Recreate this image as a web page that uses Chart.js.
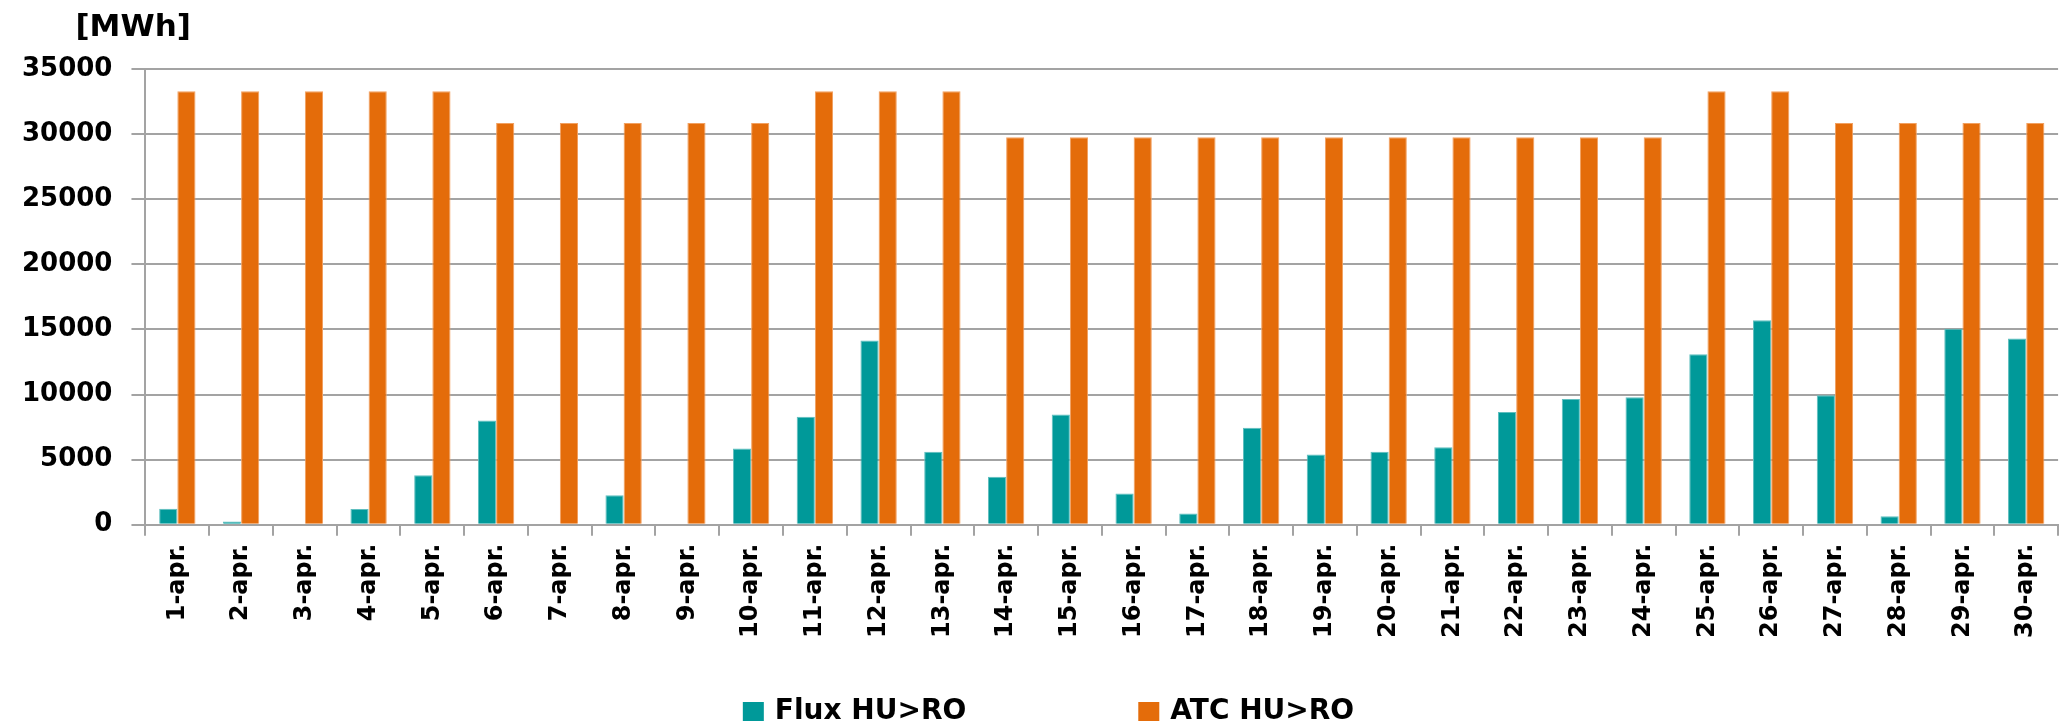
<!DOCTYPE html>
<html>
<head>
<meta charset="utf-8">
<script src="https://cdn.jsdelivr.net/npm/chart.js@4.4.1/dist/chart.umd.min.js"></script>
<style>
  html, body { margin: 0; padding: 0; background: #fff; }
</style>
</head>
<body>
<canvas id="fluxChart" width="2063" height="721"></canvas>
<script>
// daily values, April
const days = ['1-apr.', '2-apr.', '3-apr.', '4-apr.', '5-apr.', '6-apr.', '7-apr.', '8-apr.', '9-apr.', '10-apr.',
              '11-apr.', '12-apr.', '13-apr.', '14-apr.', '15-apr.', '16-apr.', '17-apr.', '18-apr.', '19-apr.', '20-apr.',
              '21-apr.', '22-apr.', '23-apr.', '24-apr.', '25-apr.', '26-apr.', '27-apr.', '28-apr.', '29-apr.', '30-apr.'];

const fluxHuRo = [1220, 250, 0, 1200, 3800, 8000, 0, 2270, 0, 5850,
                  8300, 14150, 5600, 3680, 8470, 2400, 870, 7450, 5400, 5600,
                  5950, 8650, 9650, 9800, 13100, 15700, 9950, 650, 15050, 14300];

const atcHuRo = [33300, 33300, 33300, 33300, 33300, 30850, 30850, 30850, 30850, 30850,
                 33300, 33300, 33300, 29750, 29750, 29750, 29750, 29750, 29750, 29750,
                 29750, 29750, 29750, 29750, 33300, 33300, 30850, 30850, 30850, 30850];

const unitLabel = '[MWh]';

const gridGrey = '#a3a3a3';

// legend + unit label drawn by hand, the built-in legend can't space items this wide
const extras = {
    id: 'extras',
    afterDraw(chart) {
        const ctx = chart.ctx;
        const area = chart.chartArea;
        ctx.save();
        ctx.fillStyle = '#000';
        ctx.textBaseline = 'middle';
        ctx.font = 'bold 31px "DejaVu Sans"';
        ctx.fillText(unitLabel, area.left - 70, 28);

        const box = 21, gap = 11, spacing = 172;
        ctx.font = 'bold 28px "DejaVu Sans"';
        const items = chart.data.datasets.map(ds => ({
            text: ds.label,
            color: ds.backgroundColor,
            w: box + gap + ctx.measureText(ds.label).width
        }));
        const total = items.reduce((s, it) => s + it.w, 0) + spacing * (items.length - 1);
        let x = chart.width / 2 - total / 2 + 17;
        const y = chart.height - 10;
        items.forEach(it => {
            ctx.fillStyle = it.color;
            ctx.fillRect(x, y - 9, box, 20);
            ctx.fillStyle = '#000';
            ctx.fillText(it.text, x + box + gap, y + 1);
            x += it.w + spacing;
        });
        ctx.restore();
    }
};

new Chart(document.getElementById('fluxChart'), {
    type: 'bar',
    data: {
        labels: days,
        datasets: [{
            label: 'Flux HU>RO',
            data: fluxHuRo,
            backgroundColor: '#009999',
            borderColor: '#5fbfbf',
            borderWidth: 1
        }, {
            label: 'ATC HU>RO',
            data: atcHuRo,
            backgroundColor: '#e46c0a',
            borderColor: '#f2a060',
            borderWidth: 1
        }]
    },
    options: {
        responsive: false,
        animation: false,
        devicePixelRatio: 1,
        layout: {
            padding: { top: 69, left: 3, right: -3, bottom: 75 }
        },
        datasets: {
            bar: { categoryPercentage: 0.57, barPercentage: 1.0 }
        },
        plugins: {
            legend: { display: false },
            tooltip: { enabled: false }
        },
        scales: {
            x: {
                grid: {
                    offset: true,
                    drawOnChartArea: false,
                    tickLength: 11,
                    color: gridGrey,
                    lineWidth: 2
                },
                border: { color: gridGrey, width: 2 },
                ticks: {
                    autoSkip: false,
                    minRotation: 90,
                    maxRotation: 90,
                    padding: 8,
                    color: '#000',
                    font: { family: 'DejaVu Sans', weight: 'bold', size: 24 }
                }
            },
            y: {
                min: 0,
                max: 35000,
                grid: {
                    color: gridGrey,
                    lineWidth: 2,
                    tickLength: 14
                },
                border: { color: gridGrey, width: 2 },
                ticks: {
                    stepSize: 5000,
                    padding: 19,
                    color: '#000',
                    font: { family: 'DejaVu Sans', weight: 'bold', size: 26 },
                    callback: value => String(value)
                }
            }
        }
    },
    plugins: [extras]
});
</script>
</body>
</html>
